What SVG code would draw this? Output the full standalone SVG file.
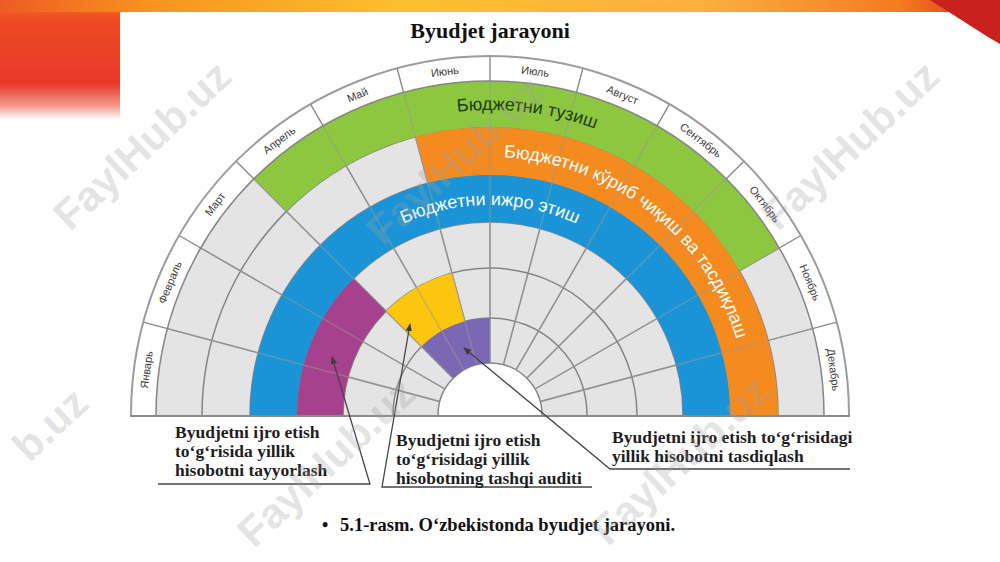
<svg xmlns="http://www.w3.org/2000/svg" width="1000" height="562" viewBox="0 0 1000 562">
<defs>
  <linearGradient id="topbar" x1="0" y1="0" x2="1" y2="0">
    <stop offset="0" stop-color="#ef5a24"/>
    <stop offset="0.15" stop-color="#f7941e"/>
    <stop offset="0.4" stop-color="#fbc02d"/>
    <stop offset="0.7" stop-color="#fbb040"/>
    <stop offset="0.9" stop-color="#f47b20"/>
    <stop offset="1" stop-color="#d7261e"/>
  </linearGradient>
  <linearGradient id="leftblk" x1="0" y1="0" x2="0" y2="1">
    <stop offset="0" stop-color="#f47a22"/>
    <stop offset="0.15" stop-color="#ee4b23"/>
    <stop offset="0.7" stop-color="#e8392a"/>
    <stop offset="0.88" stop-color="#f29a8c"/>
    <stop offset="1" stop-color="#ffffff"/>
  </linearGradient>
  <marker id="arr" viewBox="0 0 10 10" refX="9" refY="5" markerWidth="6" markerHeight="6" orient="auto">
    <path d="M0,1 L10,5 L0,9 z" fill="#3c3c3c"/>
  </marker>
  <path id="tpGreen" d="M 185 415 A 305 305 0 0 1 795 415"/>
  <path id="tpOrange" d="M 232 415 A 258 258 0 0 1 748 415"/>
  <path id="tpBlue" d="M 280 415 A 210 210 0 0 1 700 415"/>
</defs>
<style>
  .mon{font-family:"Liberation Sans","DejaVu Sans",sans-serif;font-size:11px;fill:#3c3c3c;text-anchor:middle}
  .ringtxt{font-family:"Liberation Sans","DejaVu Sans",sans-serif;font-size:18px;text-anchor:middle}
  .lbl{font-family:"Liberation Serif","Times New Roman",serif;font-weight:bold;font-size:17.5px;fill:#1e1e1e}
  .arc{stroke:#858585;stroke-width:1.5;fill:none}
  .rad{stroke:#8a8a8a;stroke-width:1.4}
  .radover{stroke:#9a9a9a;stroke-width:1.4;stroke-opacity:0.5}
  .wm{font-family:"Liberation Sans","DejaVu Sans",sans-serif;font-weight:bold;font-size:42px;fill:#a0a0a0;fill-opacity:0.3;text-anchor:middle}
  .conn{fill:none;stroke:#454545;stroke-width:1.3}
</style>

<rect x="0" y="0" width="1000" height="562" fill="#ffffff"/>
<g id="slide-decoration">
  <rect x="0" y="0" width="120" height="120" fill="url(#leftblk)"/>
  <rect x="0" y="0" width="1000" height="12" fill="url(#topbar)"/>
  <polygon points="930,0 1000,0 1000,44 988,37" fill="#c9211e"/>
</g>

<text id="title" x="490" y="38" text-anchor="middle" font-family="Liberation Serif, Times New Roman, serif" font-weight="bold" font-size="22" fill="#111">Byudjet jarayoni</text>

<g id="chart">
  <path id="label-ring" d="M 131 415 A 359 359 0 0 1 849 415 L 824 415 A 334 334 0 0 0 156 415 Z" fill="#ffffff"/>
  <path id="gray-area" d="M 156 415 A 334 334 0 0 1 824 415 L 542 415 A 52 52 0 0 0 438 415 Z" fill="#e4e4e4"/>
  <g id="grid-under">
    <path class="arc" d="M 202 415 A 288 288 0 0 1 778 415"/>
    <path class="arc" d="M 250 415 A 240 240 0 0 1 730 415"/>
    <path class="arc" d="M 297 415 A 193 193 0 0 1 683 415"/>
    <path class="arc" d="M 343 415 A 147 147 0 0 1 637 415"/>
    <path class="arc" d="M 393 415 A 97 97 0 0 1 587 415"/>
    <path class="arc" d="M 438 415 A 52 52 0 0 1 542 415"/>
    <g transform="translate(490 415)">
      <line class="rad" x1="52" y1="0" x2="359" y2="0" transform="rotate(-15)"/>
      <line class="rad" x1="52" y1="0" x2="359" y2="0" transform="rotate(-30)"/>
      <line class="rad" x1="52" y1="0" x2="359" y2="0" transform="rotate(-45)"/>
      <line class="rad" x1="52" y1="0" x2="359" y2="0" transform="rotate(-60)"/>
      <line class="rad" x1="52" y1="0" x2="359" y2="0" transform="rotate(-75)"/>
      <line class="rad" x1="52" y1="0" x2="359" y2="0" transform="rotate(-90)"/>
      <line class="rad" x1="52" y1="0" x2="359" y2="0" transform="rotate(-105)"/>
      <line class="rad" x1="52" y1="0" x2="359" y2="0" transform="rotate(-120)"/>
      <line class="rad" x1="52" y1="0" x2="359" y2="0" transform="rotate(-135)"/>
      <line class="rad" x1="52" y1="0" x2="359" y2="0" transform="rotate(-150)"/>
      <line class="rad" x1="52" y1="0" x2="359" y2="0" transform="rotate(-165)"/>
    </g>
  </g>
  <g id="phase-tuzish">
    <path d="M 253.83 178.83 A 334 334 0 0 1 779.26 248 L 739.42 271 A 288 288 0 0 0 286.35 211.35 Z" fill="#8dc63f"/>
  </g>
  <g id="phase-tasdiqlash">
    <path d="M 415.46 136.81 A 288 288 0 0 1 778 415 L 730 415 A 240 240 0 0 0 427.88 183.18 Z" fill="#f58a1f"/>
  </g>
  <g id="phase-ijro">
    <path d="M 250 415 A 240 240 0 0 1 730 415 L 683 415 A 193 193 0 0 0 297 415 Z" fill="#1a94d6"/>
  </g>
  <g id="phase-hisobot">
    <path d="M 297 415 A 193 193 0 0 1 353.53 278.53 L 386.06 311.06 A 147 147 0 0 0 343 415 Z" fill="#a6418d"/>
  </g>
  <g id="phase-audit">
    <path d="M 386.06 311.06 A 147 147 0 0 1 451.95 273.01 L 464.89 321.31 A 97 97 0 0 0 421.41 346.41 Z" fill="#fcc60f"/>
  </g>
  <g id="phase-tasdiq">
    <path d="M 421.41 346.41 A 97 97 0 0 1 490 318 L 490 363 A 52 52 0 0 0 453.23 378.23 Z" fill="#7a68b5"/>
  </g>
  <g id="grid-over">
    <g transform="translate(490 415)">
      <line class="radover" x1="52" y1="0" x2="334" y2="0" transform="rotate(-15)"/>
      <line class="radover" x1="52" y1="0" x2="334" y2="0" transform="rotate(-30)"/>
      <line class="radover" x1="52" y1="0" x2="334" y2="0" transform="rotate(-45)"/>
      <line class="radover" x1="52" y1="0" x2="334" y2="0" transform="rotate(-60)"/>
      <line class="radover" x1="52" y1="0" x2="334" y2="0" transform="rotate(-75)"/>
      <line class="radover" x1="52" y1="0" x2="334" y2="0" transform="rotate(-90)"/>
      <line class="radover" x1="52" y1="0" x2="334" y2="0" transform="rotate(-105)"/>
      <line class="radover" x1="52" y1="0" x2="334" y2="0" transform="rotate(-120)"/>
      <line class="radover" x1="52" y1="0" x2="334" y2="0" transform="rotate(-135)"/>
      <line class="radover" x1="52" y1="0" x2="334" y2="0" transform="rotate(-150)"/>
      <line class="radover" x1="52" y1="0" x2="334" y2="0" transform="rotate(-165)"/>
    </g>
    <path class="arc" d="M 156 415 A 334 334 0 0 1 824 415"/>
    <path d="M 131 415 A 359 359 0 0 1 849 415" fill="none" stroke="#9c9c9c" stroke-width="2"/>
    <line x1="130" y1="416" x2="850" y2="416" stroke="#8a8a8a" stroke-width="2"/>
  </g>
  <g id="ring-labels">
    <text class="ringtxt" fill="#213d0c"><textPath href="#tpGreen" startOffset="53.9%">Бюджетни тузиш</textPath></text>
    <text class="ringtxt" fill="#ffffff"><textPath href="#tpOrange" startOffset="71.1%">Бюджетни кўриб чиқиш ва тасдиқлаш</textPath></text>
    <text class="ringtxt" fill="#ffffff"><textPath href="#tpBlue" startOffset="50%">Бюджетни ижро этиш</textPath></text>
  </g>
  <g id="months">
    <text class="mon" dy="0.35em" transform="translate(146.46 369.77) rotate(-82.5)">Январь</text>
    <text class="mon" dy="0.35em" transform="translate(169.88 282.40) rotate(-67.5)">Февраль</text>
    <text class="mon" dy="0.35em" transform="translate(215.10 204.06) rotate(-52.5)">Март</text>
    <text class="mon" dy="0.35em" transform="translate(279.06 140.10) rotate(-37.5)">Апрель</text>
    <text class="mon" dy="0.35em" transform="translate(357.40 94.88) rotate(-22.5)">Май</text>
    <text class="mon" dy="0.35em" transform="translate(444.77 71.46) rotate(-7.5)">Июнь</text>
    <text class="mon" dy="0.35em" transform="translate(535.23 71.46) rotate(7.5)">Июль</text>
    <text class="mon" dy="0.35em" transform="translate(622.60 94.88) rotate(22.5)">Август</text>
    <text class="mon" dy="0.35em" transform="translate(700.94 140.10) rotate(37.5)">Сентябрь</text>
    <text class="mon" dy="0.35em" transform="translate(764.90 204.06) rotate(52.5)">Октябрь</text>
    <text class="mon" dy="0.35em" transform="translate(810.12 282.40) rotate(67.5)">Ноябрь</text>
    <text class="mon" dy="0.35em" transform="translate(833.54 369.77) rotate(82.5)">Декабрь</text>
  </g>
</g>

<g id="connectors">
  <polyline class="conn" points="158,484 370,484 332,357" marker-end="url(#arr)"/>
  <polyline class="conn" points="592,487 382,487 410,324" marker-end="url(#arr)"/>
  <polyline class="conn" points="850,469 610,469 464,348" marker-end="url(#arr)"/>
</g>

<g id="label-hisobot-tayyorlash">
  <text class="lbl" x="175" y="438">Byudjetni ijro etish</text>
  <text class="lbl" x="175" y="457">to‘g‘risida yillik</text>
  <text class="lbl" x="175" y="476">hisobotni tayyorlash</text>
</g>
<g id="label-tashqi-audit">
  <text class="lbl" x="396" y="446">Byudjetni ijro etish</text>
  <text class="lbl" x="396" y="465">to‘g‘risidagi yillik</text>
  <text class="lbl" x="396" y="484">hisobotning tashqi auditi</text>
</g>
<g id="label-tasdiqlash">
  <text class="lbl" x="612" y="443">Byudjetni ijro etish to‘g‘risidagi</text>
  <text class="lbl" x="612" y="462">yillik hisobotni tasdiqlash</text>
</g>

<g id="caption">
  <text x="322" y="531" font-family="Liberation Serif, Times New Roman, serif" font-weight="bold" font-size="18" fill="#111">•</text>
  <text x="340" y="531" font-family="Liberation Serif, Times New Roman, serif" font-weight="bold" font-size="18.5" fill="#111">5.1-rasm. O‘zbekistonda byudjet jarayoni.</text>
</g>

<g id="watermarks">
  <text class="wm" dy="0.35em" transform="translate(142 145) rotate(-43)">FaylHub.uz</text>
  <text class="wm" dy="0.35em" transform="translate(455 160) rotate(-43)">FaylHub.uz</text>
  <text class="wm" dy="0.35em" transform="translate(850 145) rotate(-43)">FaylHub.uz</text>
  <text class="wm" dy="0.35em" transform="translate(50 424) rotate(-43)">b.uz</text>
  <text class="wm" dy="0.35em" transform="translate(326 462) rotate(-43)">FaylHub.uz</text>
  <text class="wm" dy="0.35em" transform="translate(680 460) rotate(-43)">FaylHub.uz</text>
</g>
</svg>
